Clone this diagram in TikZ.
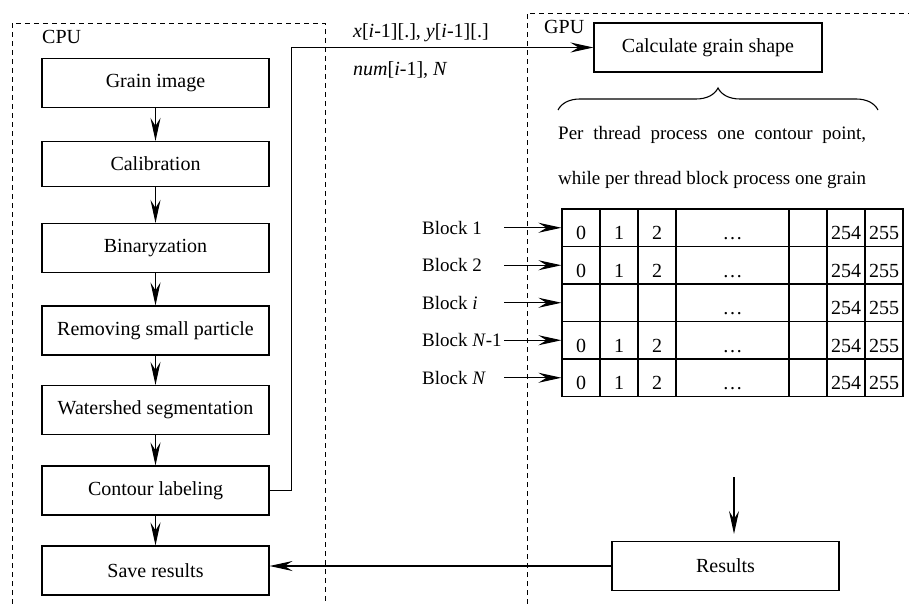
\documentclass[tikz,border=0pt]{standalone}
\usepackage{fontspec}
\setmainfont{Liberation Serif}
\usetikzlibrary{positioning,arrows.meta,decorations.pathreplacing}
\tikzset{
stage/.style={draw, line width=1.1pt, minimum width=227pt, minimum height=49pt, inner sep=0pt},
flow/.style={line width=1.1pt, -{Stealth[length=23pt,width=10pt,inset=8pt]}},
region/.style={line width=0.9pt, dash pattern=on 5pt off 4pt},
cell/.style={draw, line width=1.1pt, minimum height=37.5pt, inner sep=0pt},
digit/.style={inner sep=0pt, text height=13.5pt, text depth=0pt},
tag/.style={inner sep=0pt}
}

\begin{document}
\begin{tikzpicture}[x=1pt,y=-1pt,font=\fontsize{20}{24}\selectfont]
\useasboundingbox (0,0) rectangle (909,604);
% host and device areas
\draw[region] (12,604) -- (12,23) -- (325,23) -- (325,604);
\draw[region] (527,604) -- (527,13) -- (909,13);
\node[tag, anchor=base west] (cpu) at (42,44) {CPU};
\node[tag, anchor=base west] (gpu) at (544,33.5) {GPU};

% CPU pipeline
\node[stage] (img) at (155.5,83) {Grain image};
\node[stage, minimum height=45pt] (cal) at (155.5,164) {Calibration};
\node[stage] (bin) at (155.5,248) {Binaryzation};
\node[stage] (rem) at (155.5,330.5) {Removing small particle};
\node[stage] (ws) at (155.5,410) {Watershed segmentation};
\node[stage] (con) at (155.5,490.5) {Contour labeling};
\node[stage] (save) at (155.5,570.5) {Save results};
\foreach \a/\b in {img/cal, cal/bin, bin/rem, rem/ws, ws/con, con/save}
  \draw[flow] (\a) -- (\b);

% data sent to the device
\node[tag, anchor=base west] (xy) at (353,37.5) {\textit{x}[\textit{i}-1][.], \textit{y}[\textit{i}-1][.]};
\node[tag, anchor=base west] (num) at (353,75.5) {\textit{num}[\textit{i}-1], \textit{N}};
\node[stage, minimum width=228pt] (shape) at (708,47.5) {Calculate grain shape};
\draw[flow] (con.east) -- ++(22,0) |- (shape.west);

\draw[decorate, decoration={brace, amplitude=22pt}, line width=1.1pt] (558,110) -- (878,110);
\node[tag, anchor=base west, font=\fontsize{19}{23}\selectfont] (note1) at (558,139.5)
  {\makebox[308pt][s]{Per thread process one contour point,}};
\node[tag, anchor=base west, font=\fontsize{19}{23}\selectfont] (note2) at (558,184)
  {\makebox[308pt][s]{while per thread block process one grain}};

% thread blocks
\coordinate (tail) at (504,0);
\foreach \r/\y/\blk in {1/227.75/1, 2/265.25/2, 3/302.75/{\textit{i}}, 4/340.25/{\textit{N}-1}, 5/377.75/{\textit{N}}}{
  \foreach \c/\xa/\xb/\t in {1/562/600/0, 2/600/638/1, 3/638/676/2, 4/676/789/…, 5/789/827/{}, 6/827/865/254, 7/865/903/255}{
    \node[cell, minimum width={(\xb-\xa)*1pt}] (cell-\r-\c) at ({(\xa+\xb)/2},\y) {};
    \node[digit] (val-\r-\c) at ([yshift=-5pt]cell-\r-\c.center) {\ifnum\r=3 \ifnum\c<4 \else\t\fi\else\t\fi};
  }
  \node[tag, anchor=west, font=\fontsize{19}{23}\selectfont] (blk-\r) at (422,\y) {Block \blk};
  \draw[flow] (cell-\r-1.west -| tail) -- (cell-\r-1.west);
}

% results back to the host
\node[stage] (res) at (725.5,566) {Results};
\coordinate (gpuend) at (734,477);
\draw[flow, shorten >=7pt] (gpuend) -- (gpuend |- res.north);
\draw[flow] (res.west) -- (res.west -| save.east);
\end{tikzpicture}
\end{document}
